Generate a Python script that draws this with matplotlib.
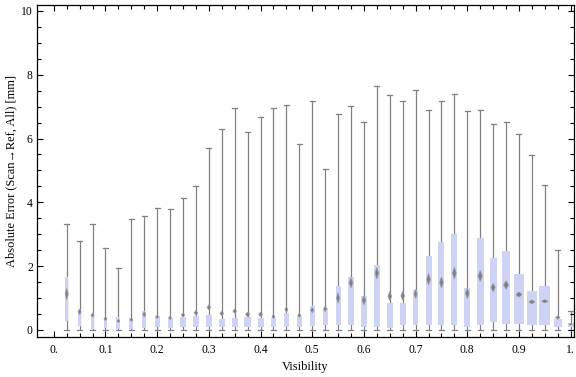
import numpy as np
import matplotlib.pyplot as plt
import matplotlib as mpl
from matplotlib.patches import Rectangle, Polygon

mpl.rcParams['font.family'] = ['Liberation Serif', 'DejaVu Serif']
mpl.rcParams['xtick.labelsize'] = 8.4
mpl.rcParams['ytick.labelsize'] = 8.4
mpl.rcParams['axes.labelsize'] = 8.9

# visibility bins (box centres)
vis = [0.025, 0.05, 0.075, 0.1, 0.125, 0.15, 0.175, 0.2, 0.225, 0.25,
       0.275, 0.3, 0.325, 0.35, 0.375, 0.4, 0.425, 0.45, 0.475, 0.5,
       0.525, 0.55, 0.575, 0.6, 0.625, 0.65, 0.675, 0.7, 0.725, 0.75,
       0.775, 0.8, 0.825, 0.85, 0.875, 0.9, 0.925, 0.95, 0.975, 1.0]

whisk_hi = [3.31, 2.79, 3.31, 2.57, 1.93, 3.47, 3.56, 3.81, 3.78, 4.13,
            4.50, 5.70, 6.29, 6.95, 6.20, 6.67, 6.95, 7.04, 5.82, 7.17,
            5.04, 6.76, 7.01, 6.51, 7.64, 7.36, 7.17, 7.51, 6.89, 7.17,
            7.39, 6.86, 6.89, 6.45, 6.51, 6.13, 5.48, 4.54, 2.50, 0.59]
whisk_lo = [0.0] * 40

box_hi = [1.65, 0.63, 0.50, 0.33, 0.41, 0.38, 0.60, 0.44, 0.38, 0.41,
          0.44, 0.47, 0.34, 0.38, 0.41, 0.38, 0.38, 0.53, 0.44, 0.75,
          0.69, 1.38, 1.66, 1.07, 2.04, 0.85, 0.85, 1.25, 2.32, 2.75,
          3.01, 1.32, 2.88, 2.26, 2.48, 1.75, 1.22, 1.38, 0.34, 0.23]
box_lo = [0.29, 0.13, 0.04, 0.06, 0.03, 0.03, 0.06, 0.09, 0.06, 0.09,
          0.09, 0.09, 0.09, 0.09, 0.09, 0.09, 0.09, 0.09, 0.10, 0.13,
          0.14, 0.14, 0.14, 0.10, 0.10, 0.07, 0.14, 0.17, 0.17, 0.17,
          0.17, 0.10, 0.17, 0.26, 0.20, 0.20, 0.14, 0.17, 0.10, 0.10]

# mean and half-height of the confidence diamond
mean = [1.13, 0.57, 0.46, 0.35, 0.28, 0.32, 0.49, 0.41, 0.38, 0.47,
        0.54, 0.71, 0.52, 0.59, 0.49, 0.49, 0.42, 0.64, 0.46, 0.62,
        0.66, 1.00, 1.48, 0.93, 1.78, 1.06, 1.07, 1.13, 1.59, 1.49,
        1.78, 1.15, 1.69, 1.33, 1.41, 1.11, 0.88, 0.90, 0.39, 0.18]
ci = [0.18, 0.09, 0.06, 0.06, 0.05, 0.05, 0.08, 0.05, 0.05, 0.06,
      0.07, 0.08, 0.07, 0.07, 0.07, 0.07, 0.06, 0.08, 0.06, 0.08,
      0.08, 0.16, 0.16, 0.14, 0.18, 0.14, 0.14, 0.14, 0.18, 0.17,
      0.19, 0.16, 0.17, 0.13, 0.13, 0.08, 0.06, 0.05, 0.05, 0.03]

# relative box widths (sample weight)
weight = [3, 3, 3, 3, 4, 4, 4, 5, 5, 6,
          6, 6, 6, 6, 7, 6, 5, 5, 5, 5,
          5, 5, 6, 6, 6, 6, 6, 5, 6, 6,
          6, 6, 7, 7, 8, 10, 10, 11, 8, 6]

xtick_vals = [0.0, 0.1, 0.2, 0.3, 0.4, 0.5, 0.6, 0.7, 0.8, 0.9, 1.0]
xtick_labels = ['0.', '0.1', '0.2', '0.3', '0.4', '0.5', '0.6', '0.7', '0.8', '0.9', '1.']

px = 1.0 / 516.9   # one pixel in visibility units
box_color = '#cdd3f4'
line_color = '#808080'

fig = plt.figure(figsize=(5.76, 3.77), dpi=100)
ax = fig.add_axes([0.0642, 0.107, 0.9323, 0.881])

for i, x in enumerate(vis):
    w = weight[i] * px
    ax.plot([x, x], [whisk_lo[i], whisk_hi[i]], color=line_color, lw=0.9, zorder=1)
    for yy in (whisk_lo[i], whisk_hi[i]):
        ax.plot([x - 2.5 * px, x + 2.5 * px], [yy, yy], color=line_color, lw=0.9, zorder=1)
    ax.add_patch(Rectangle((x - w / 2, box_lo[i]), w, box_hi[i] - box_lo[i],
                           facecolor=box_color, edgecolor='none', zorder=2))
    dw = min(w, max(0.6 * w, 3 * px)) / 2
    ax.add_patch(Polygon([[x - dw, mean[i]], [x, mean[i] + ci[i]],
                          [x + dw, mean[i]], [x, mean[i] - ci[i]]],
                         closed=True, facecolor='#6e6e6e', edgecolor='#9a9a9a',
                         lw=0.6, alpha=0.85, zorder=3))

ax.set_xlim(-0.0325, 1.0064)
ax.set_ylim(-0.21, 10.2)
ax.set_xticks(xtick_vals)
ax.set_xticklabels(xtick_labels)
ax.set_xticks(np.arange(0, 1.001, 0.025), minor=True)
ax.set_yticks([0, 2, 4, 6, 8, 10])
ax.set_yticks(np.arange(0, 10.01, 0.5), minor=True)
ax.tick_params(which='both', direction='in', top=True, right=True, width=0.8)
ax.tick_params(which='major', length=4.5)
ax.tick_params(which='minor', length=2.8)
ax.tick_params(axis='x', pad=5)
ax.tick_params(axis='y', pad=3)
for s in ax.spines.values():
    s.set_linewidth(0.9)

ax.set_xlabel('Visibility', labelpad=4)
ax.set_ylabel('Absolute Error (Scan\u2192Ref, All) [mm]', labelpad=3)

fig.savefig('out.png', dpi=100)
